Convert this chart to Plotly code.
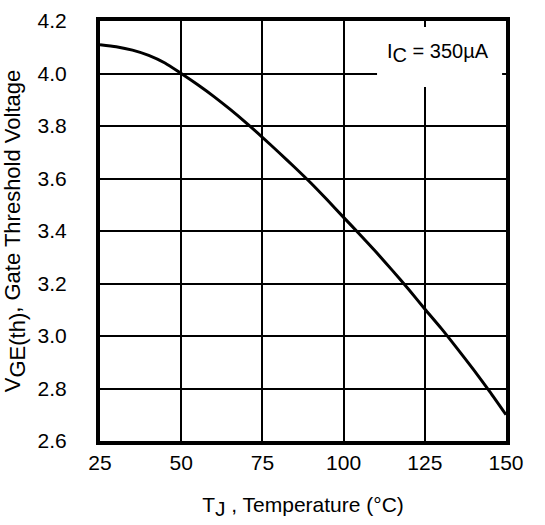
import plotly.graph_objects as go

temp_c = [25, 30, 35, 40, 45, 50, 55, 60, 65, 70, 75, 80, 85, 90, 95, 100,
          105, 110, 115, 120, 125, 130, 135, 140, 145, 150]
vge_th = [4.11, 4.102, 4.089, 4.069, 4.04, 4.0, 3.958, 3.913, 3.864, 3.812,
          3.757, 3.70, 3.642, 3.582, 3.518, 3.452, 3.387, 3.32, 3.25, 3.178,
          3.103, 3.03, 2.952, 2.872, 2.788, 2.70]
x_ticks = [25, 50, 75, 100, 125, 150]
y_ticks = [2.6, 2.8, 3.0, 3.2, 3.4, 3.6, 3.8, 4.0, 4.2]

FONT = "Liberation Sans, Arial"
FS = 21
FS_Y = 22
FS_A = 20
fig = go.Figure()
fig.add_trace(go.Scatter(x=temp_c, y=vge_th, mode="lines",
                         line=dict(color="black", width=3, shape="spline", smoothing=0.6),
                         showlegend=False, hoverinfo="skip"))

fig.add_shape(type="rect", xref="x", yref="y", x0=110.3, x1=148.8, y0=3.949, y1=4.177,
              fillcolor="white", line=dict(width=0), layer="above")
fig.add_annotation(x=129.1, y=4.08, xref="x", yref="y",
                   text=f"I<sub><span style='font-size:{FS_A}px'>C</span></sub> = 350µA",
                   showarrow=False,
                   font=dict(family=FONT, size=FS_A, color="black"))

fig.update_layout(
    width=545, height=525,
    margin=dict(l=100, r=39, t=21, b=84, autoexpand=False),
    plot_bgcolor="white", paper_bgcolor="white",
    font=dict(family=FONT, size=FS, color="black"),
)
fig.update_xaxes(range=[25, 150], tickvals=x_ticks, ticktext=[str(v) for v in x_ticks],
                 showgrid=True, gridcolor="black", gridwidth=2,
                 showline=True, linecolor="black", linewidth=4, mirror=True,
                 ticks="", zeroline=False, ticklabelstandoff=0,
                 title=dict(text=f"T<sub><span style='font-size:{FS}px'>J</span></sub> , Temperature (°C)",
                            standoff=25, font=dict(size=FS)))
fig.update_yaxes(range=[2.6, 4.2], tickvals=y_ticks, ticktext=[f"{v:.1f}" for v in y_ticks],
                 showgrid=True, gridcolor="black", gridwidth=2,
                 showline=True, linecolor="black", linewidth=4, mirror=True,
                 ticks="", zeroline=False, ticklabelstandoff=25,
                 title=dict(text=f"V<sub><span style='font-size:{FS_Y}px'>GE(th)</span></sub>, Gate Threshold Voltage",
                            standoff=14, font=dict(size=FS_Y)))

fig.write_html("out.html")
